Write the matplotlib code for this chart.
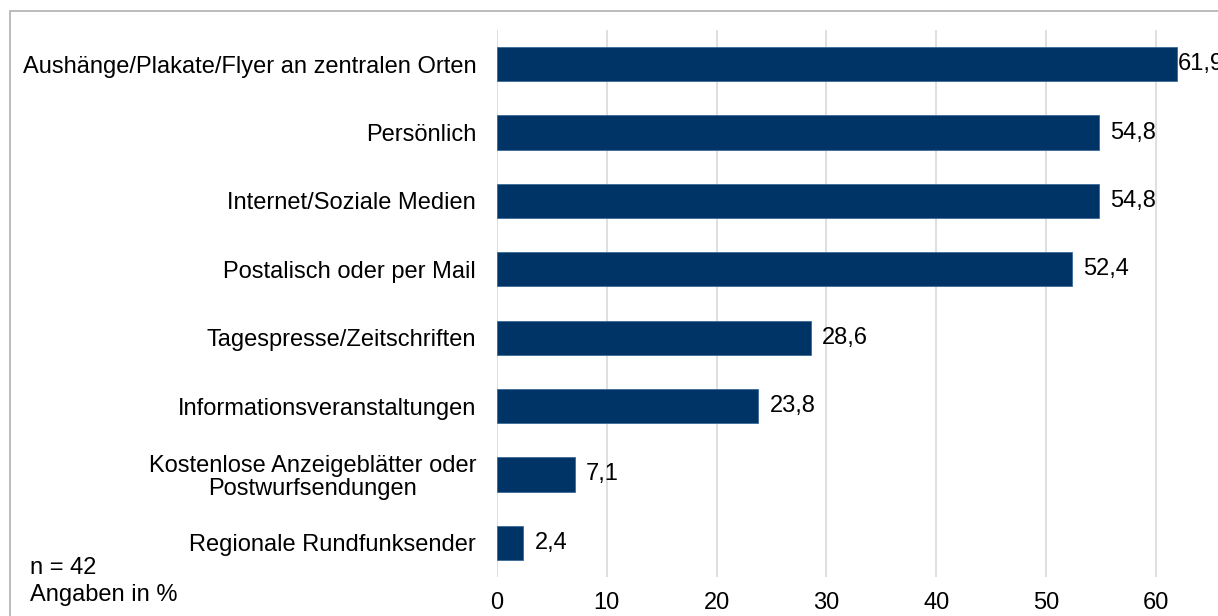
import matplotlib.pyplot as plt
import matplotlib.patches as mpatches

plt.rcParams['font.family'] = ['Liberation Sans', 'DejaVu Sans']

categories = ['Aushänge/Plakate/Flyer an zentralen Orten',
              'Persönlich',
              'Internet/Soziale Medien',
              'Postalisch oder per Mail',
              'Tagespresse/Zeitschriften',
              'Informationsveranstaltungen',
              'Kostenlose Anzeigeblätter oder\nPostwurfsendungen',
              'Regionale Rundfunksender']
values = [61.9, 54.8, 54.8, 52.4, 28.6, 23.8, 7.1, 2.4]
xticks = [0, 10, 20, 30, 40, 50, 60]

FS = 17
W, H = 1218, 616
fig = plt.figure(figsize=(W / 100, H / 100), dpi=100)
ax = fig.add_axes([497 / W, 39 / H, 1 - 497 / W, 547 / H])

ypos = list(range(len(categories)))
ax.barh(ypos, values, height=0.5, color='#003366', edgecolor='#3a6a9a', linewidth=0.6, zorder=3)
ax.set_ylim(len(categories) - 0.5, -0.5)
ax.set_xlim(0, (W - 497) / 10.98)

ax.set_yticks(ypos)
ax.set_yticklabels(categories, fontsize=FS, multialignment='center', linespacing=1.05)
ax.set_xticks(xticks)
ax.set_xticklabels([str(t) for t in xticks], fontsize=FS)
ax.tick_params(axis='y', length=0, pad=15)
ax.tick_params(axis='x', length=0, pad=11)

ax.grid(axis='x', color='#d9d9d9', linewidth=1.2, zorder=0)
for s in ax.spines.values():
    s.set_visible(False)

for y, v in zip(ypos, values):
    off = 1 if v > 60 else 8
    ax.annotate(('%.1f' % v).replace('.', ','), (v, y), xytext=(off, 0),
                textcoords='offset points', va='center', ha='left',
                fontsize=FS, annotation_clip=False)

fig.text(30 / W, 1 - 568 / H, 'n = 42', fontsize=FS, va='center', ha='left')
fig.text(30 / W, 1 - 595 / H, 'Angaben in %', fontsize=FS, va='center', ha='left')

# outer frame (only top and left visible)
fig.patches.append(mpatches.Rectangle((10 / W, -0.5), 2, 0.5 + 1 - 11 / H,
                                      transform=fig.transFigure, fill=False,
                                      edgecolor='#b0b0b0', linewidth=1.2))

fig.savefig('out.png', dpi=100)
